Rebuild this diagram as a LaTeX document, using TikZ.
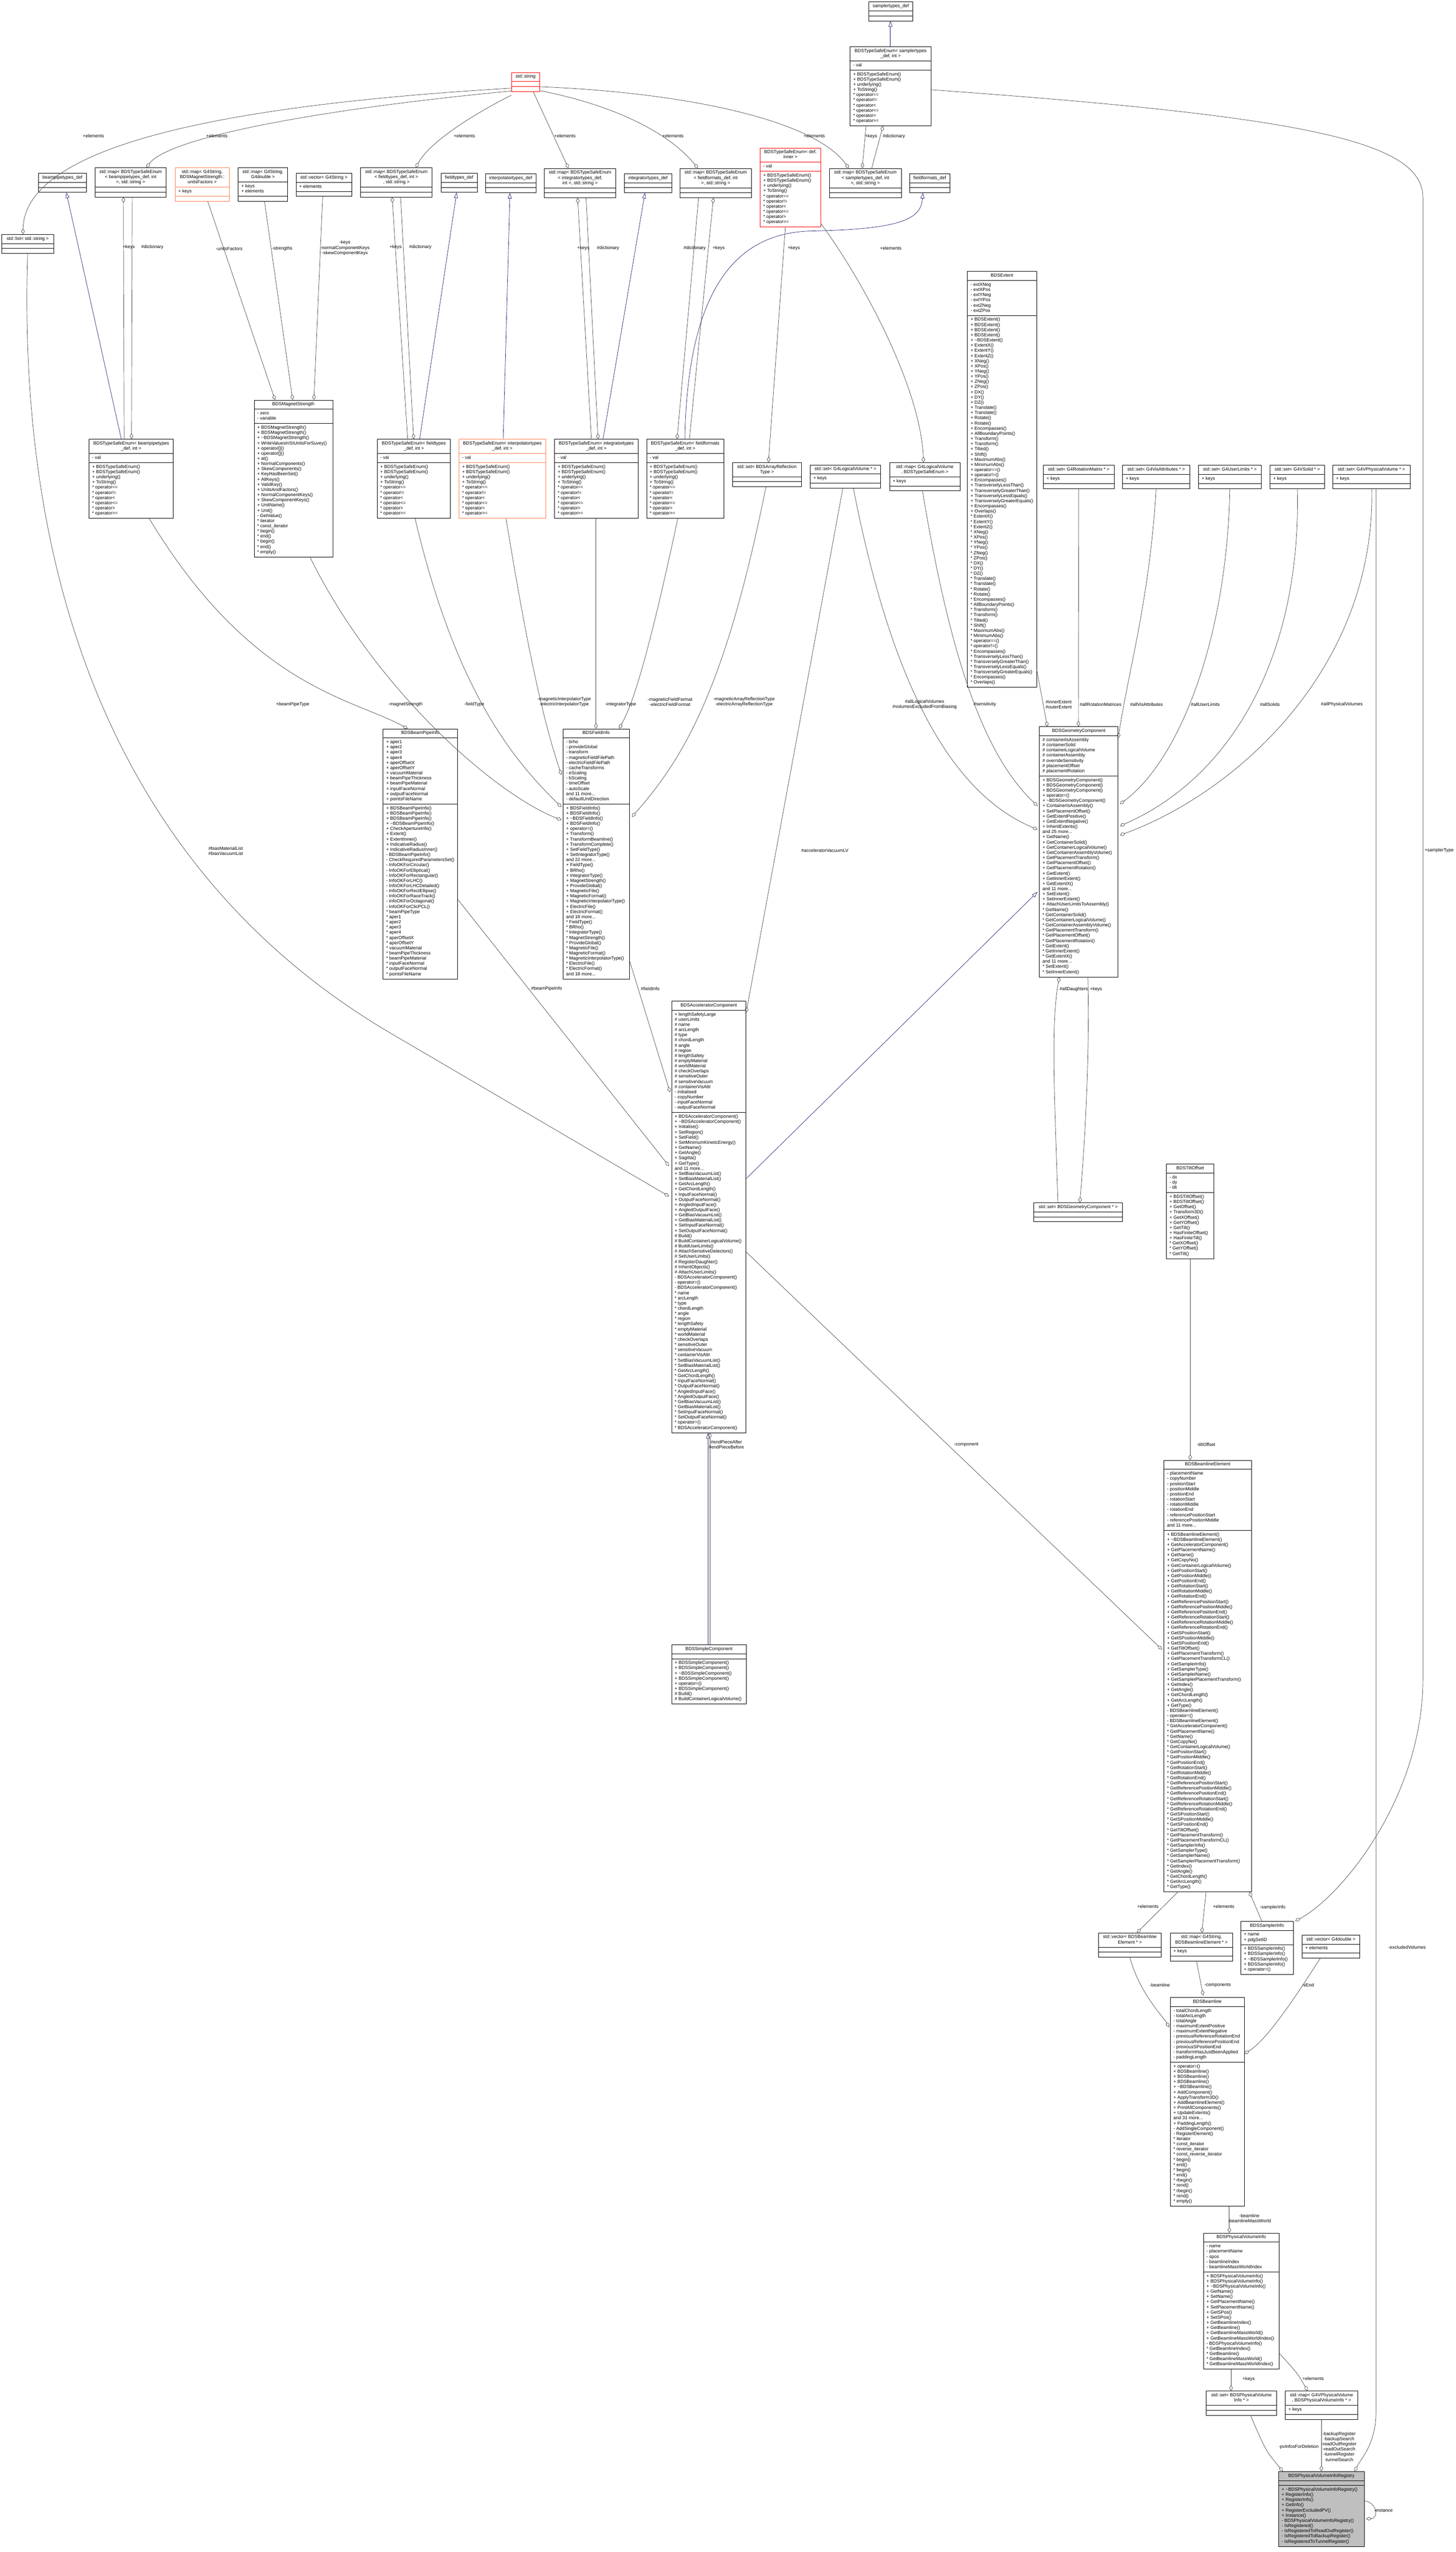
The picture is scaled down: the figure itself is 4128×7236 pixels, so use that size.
\documentclass[tikz,border=0pt]{standalone}
\usepackage{fontspec}
\setmainfont{Liberation Sans}
\usetikzlibrary{shapes.multipart,arrows.meta,calc}
\definecolor{edgegray}{HTML}{404040}
\definecolor{inhblue}{HTML}{191970}
\definecolor{truncred}{HTML}{FF0000}
\definecolor{partorange}{HTML}{FF7F50}
\definecolor{focusgray}{HTML}{BFBFBF}
\newcommand{\mb}[1]{\begin{tabular}{@{}l@{}}#1\end{tabular}}
\newcommand{\tb}[1]{\begin{tabular}{@{}c@{}}#1\end{tabular}}
\newcommand{\noparts}{\nodepart{two}\mb{}\nodepart{three}\mb{}}
\newcommand{\tsemethods}{\mb{+ BDSTypeSafeEnum()\\+ BDSTypeSafeEnum()\\+ underlying()\\+ ToString()\\{}* operator==\\{}* operator!=\\{}* operator<\\{}* operator<=\\{}* operator>\\{}* operator>=}}
\newcommand{\extgroup}[1]{#1 ExtentX()\\#1 ExtentY()\\#1 ExtentZ()\\#1 XNeg()\\#1 XPos()\\#1 YNeg()\\#1 YPos()\\#1 ZNeg()\\#1 ZPos()\\#1 DX()\\#1 DY()\\#1 DZ()\\#1 Translate()\\#1 Translate()\\#1 Rotate()\\#1 Rotate()\\#1 Encompasses()\\#1 AllBoundaryPoints()\\#1 Transform()\\#1 Transform()\\#1 Tilted()\\#1 Shift()\\#1 MaximumAbs()\\#1 MinimumAbs()\\#1 operator==()\\#1 operator!=()\\#1 Encompasses()\\#1 TransverselyLessThan()\\#1 TransverselyGreaterThan()\\#1 TransverselyLessEquals()\\#1 TransverselyGreaterEquals()\\#1 Encompasses()\\#1 Overlaps()}
\newcommand{\elemgroup}[1]{#1 GetAcceleratorComponent()\\#1 GetPlacementName()\\#1 GetName()\\#1 GetCopyNo()\\#1 GetContainerLogicalVolume()\\#1 GetPositionStart()\\#1 GetPositionMiddle()\\#1 GetPositionEnd()\\#1 GetRotationStart()\\#1 GetRotationMiddle()\\#1 GetRotationEnd()\\#1 GetReferencePositionStart()\\#1 GetReferencePositionMiddle()\\#1 GetReferencePositionEnd()\\#1 GetReferenceRotationStart()\\#1 GetReferenceRotationMiddle()\\#1 GetReferenceRotationEnd()\\#1 GetSPositionStart()\\#1 GetSPositionMiddle()\\#1 GetSPositionEnd()\\#1 GetTiltOffset()\\#1 GetPlacementTransform()\\#1 GetPlacementTransformCL()\\#1 GetSamplerInfo()\\#1 GetSamplerType()\\#1 GetSamplerName()\\#1 GetSamplerPlacementTransform()\\#1 GetIndex()\\#1 GetAngle()\\#1 GetChordLength()\\#1 GetArcLength()\\#1 GetType()}
\begin{document}
\begin{tikzpicture}[x=1pt,y=-1pt]
  \tikzstyle{cls}=[draw=black,fill=white,line width=1pt,rectangle split,rectangle split parts=3,
    rectangle split part align={center,left,left},inner xsep=9pt,inner ysep=5pt,anchor=north west,
    font=\fontsize{13}{14.7}\selectfont]
  \tikzstyle{trunccls}=[cls,draw=truncred]
  \tikzstyle{partcls}=[cls,draw=partorange]
  \tikzstyle{agg}=[draw=edgegray,line width=1pt,-{Diamond[open,length=16pt,width=10pt]}]
  \tikzstyle{inh}=[draw=inhblue,line width=1pt,-{Triangle[open,length=16pt,width=11pt]}]
  \tikzstyle{lbl}=[font=\fontsize{13}{14.7}\selectfont,inner sep=0pt,align=center]
  \useasboundingbox[fill=white] (0,0) rectangle (4128,7236);

  % top row
  \node[cls,minimum width=125pt] (samplerdef) at (2463,5) {\tb{samplertypes\_def}\noparts};
  \node[cls,minimum width=230pt] (samplerenum) at (2410,132) {\tb{BDSTypeSafeEnum< samplertypes\\\_def, int >}\nodepart{two}\mb{- val}\nodepart{three}\tsemethods};
  \node[trunccls,minimum width=80pt] (stdstr) at (1450,205) {\tb{std::string}\noparts};

  \node[cls,minimum width=148pt] (stdlist) at (4,664) {\tb{std::list< std::string >}\noparts};
  \node[cls,minimum width=135pt] (beamdef) at (109,491) {\tb{beampipetypes\_def}\noparts};
  \node[cls,minimum width=202pt] (mapbeam) at (269,475) {\tb{std::map< BDSTypeSafeEnum\\< beampipetypes\_def, int\\>, std::string >}\noparts};
  \node[partcls,minimum width=154pt] (mapunits) at (496,475) {\tb{std::map< G4String,\\BDSMagnetStrength::\\unitsFactors >}\nodepart{two}\mb{+ keys}\nodepart{three}\mb{}};
  \node[cls,minimum width=140pt] (mapdouble) at (675,475) {\tb{std::map< G4String,\\G4double >}\nodepart{two}\mb{+ keys\\+ elements}\nodepart{three}\mb{}};
  \node[cls,minimum width=158pt] (vecstr) at (839,491) {\tb{std::vector< G4String >}\nodepart{two}\mb{+ elements}\nodepart{three}\mb{}};
  \node[cls,minimum width=203pt] (mapfield) at (1022,475) {\tb{std::map< BDSTypeSafeEnum\\< fieldtypes\_def, int >\\, std::string >}\noparts};
  \node[cls,minimum width=103pt] (fielddef) at (1250,491) {\tb{fieldtypes\_def}\noparts};
  \node[cls,minimum width=143pt] (interpdef) at (1376,492) {\tb{interpolatortypes\_def}\noparts};
  \node[cls,minimum width=203pt] (mapinteg) at (1543,477) {\tb{std::map< BDSTypeSafeEnum\\< integratortypes\_def,\\int >, std::string >}\noparts};
  \node[cls,minimum width=134pt] (integdef) at (1770,492) {\tb{integratortypes\_def}\noparts};
  \node[cls,minimum width=202pt] (mapformat) at (1928,477) {\tb{std::map< BDSTypeSafeEnum\\< fieldformats\_def, int\\>, std::string >}\noparts};
  \node[trunccls,minimum width=172pt] (tseinner) at (2155,419) {\tb{BDSTypeSafeEnum< def,\\inner >}\nodepart{two}\mb{- val}\nodepart{three}\tsemethods};
  \node[cls,minimum width=203pt] (mapsampler) at (2352,477) {\tb{std::map< BDSTypeSafeEnum\\< samplertypes\_def, int\\>, std::string >}\noparts};
  \node[cls,minimum width=114pt] (formatdef) at (2579,492) {\tb{fieldformats\_def}\noparts};

  % second row
  \node[cls,minimum width=239pt] (beamenum) at (252,1245) {\tb{BDSTypeSafeEnum< beampipetypes\\\_def, int >}\nodepart{two}\mb{- val}\nodepart{three}\tsemethods};
  \node[cls,minimum width=223pt] (magnet) at (720,1134) {\tb{BDSMagnetStrength}\nodepart{two}\mb{- zero\\- variable}\nodepart{three}\mb{+ BDSMagnetStrength()\\+ BDSMagnetStrength()\\+ \textasciitilde BDSMagnetStrength()\\+ WriteValuesInSIUnitsForSuvey()\\+ operator[]()\\+ operator[]()\\+ at()\\+ NormalComponents()\\+ SkewComponents()\\+ KeyHasBeenSet()\\+ AllKeys()\\+ ValidKey()\\+ UnitsAndFactors()\\+ NormalComponentKeys()\\+ SkewComponentKeys()\\+ UnitName()\\+ Unit()\\- GetValue()\\{}* iterator\\{}* const\_iterator\\{}* begin()\\{}* end()\\{}* begin()\\{}* end()\\{}* empty()}};
  \node[cls,minimum width=208pt] (fieldenum) at (1069,1245) {\tb{BDSTypeSafeEnum< fieldtypes\\\_def, int >}\nodepart{two}\mb{- val}\nodepart{three}\tsemethods};
  \node[partcls,minimum width=246pt] (interpenum) at (1301,1245) {\tb{BDSTypeSafeEnum< interpolatortypes\\\_def, int >}\nodepart{two}\mb{- val}\nodepart{three}\tsemethods};
  \node[cls,minimum width=237pt] (integenum) at (1572,1245) {\tb{BDSTypeSafeEnum< integratortypes\\\_def, int >}\nodepart{two}\mb{- val}\nodepart{three}\tsemethods};
  \node[cls,minimum width=219pt] (formatenum) at (1833,1245) {\tb{BDSTypeSafeEnum< fieldformats\\\_def, int >}\nodepart{two}\mb{- val}\nodepart{three}\tsemethods};
  \node[cls,minimum width=195pt] (setrefl) at (2077,1311) {\tb{std::set< BDSArrayReflection\\Type >}\noparts};
  \node[cls,minimum width=200pt] (setlv) at (2297,1318) {\tb{std::set< G4LogicalVolume * >}\nodepart{two}\mb{+ keys}\nodepart{three}\mb{}};
  \node[cls,minimum width=200pt] (maplv) at (2522,1311) {\tb{std::map< G4LogicalVolume\\*, BDSTypeSafeEnum >}\nodepart{two}\mb{+ keys}\nodepart{three}\mb{}};
  \node[cls,minimum width=190pt] (extent) at (2743,769) {\tb{BDSExtent}\nodepart{two}\mb{- extXNeg\\- extXPos\\- extYNeg\\- extYPos\\- extZNeg\\- extZPos}\nodepart{three}\mb{+ BDSExtent()\\+ BDSExtent()\\+ BDSExtent()\\+ BDSExtent()\\+ \textasciitilde BDSExtent()\\\extgroup{+}\\\extgroup{{}*}}};
  \node[cls,minimum width=201pt] (setrot) at (2958,1319) {\tb{std::set< G4RotationMatrix * >}\nodepart{two}\mb{+ keys}\nodepart{three}\mb{}};
  \node[cls,minimum width=190pt] (setvis) at (3183,1319) {\tb{std::set< G4VisAttributes * >}\nodepart{two}\mb{+ keys}\nodepart{three}\mb{}};
  \node[cls,minimum width=178pt] (setul) at (3398,1319) {\tb{std::set< G4UserLimits * >}\nodepart{two}\mb{+ keys}\nodepart{three}\mb{}};
  \node[cls,minimum width=155pt] (setsolid) at (3601,1319) {\tb{std::set< G4VSolid * >}\nodepart{two}\mb{+ keys}\nodepart{three}\mb{}};
  \node[cls,minimum width=219pt] (setpv) at (3779,1319) {\tb{std::set< G4VPhysicalVolume * >}\nodepart{two}\mb{+ keys}\nodepart{three}\mb{}};

  % middle
  \node[cls,minimum width=210pt] (pipeinfo) at (1086,2066) {\tb{BDSBeamPipeInfo}\nodepart{two}\mb{+ aper1\\+ aper2\\+ aper3\\+ aper4\\+ aperOffsetX\\+ aperOffsetY\\+ vacuumMaterial\\+ beamPipeThickness\\+ beamPipeMaterial\\+ inputFaceNormal\\+ outputFaceNormal\\+ pointsFileName}\nodepart{three}\mb{+ BDSBeamPipeInfo()\\+ BDSBeamPipeInfo()\\+ BDSBeamPipeInfo()\\+ \textasciitilde BDSBeamPipeInfo()\\+ CheckApertureInfo()\\+ Extent()\\+ ExtentInner()\\+ IndicativeRadius()\\+ IndicativeRadiusInner()\\- BDSBeamPipeInfo()\\- CheckRequiredParametersSet()\\- InfoOKForCircular()\\- InfoOKForElliptical()\\- InfoOKForRectangular()\\- InfoOKForLHC()\\- InfoOKForLHCDetailed()\\- InfoOKForRectEllipse()\\- InfoOKForRaceTrack()\\- InfoOKForOctagonal()\\- InfoOKForClicPCL()\\{}* beamPipeType\\{}* aper1\\{}* aper2\\{}* aper3\\{}* aper4\\{}* aperOffsetX\\{}* aperOffsetY\\{}* vacuumMaterial\\{}* beamPipeThickness\\{}* beamPipeMaterial\\{}* inputFaceNormal\\{}* outputFaceNormal\\{}* pointsFileName}};
  \node[cls,minimum width=188pt] (fieldinfo) at (1596,2066) {\tb{BDSFieldInfo}\nodepart{two}\mb{- brho\\- provideGlobal\\- transform\\- magneticFieldFilePath\\- electricFieldFilePath\\- cacheTransforms\\- eScaling\\- bScaling\\- timeOffset\\- autoScale\\and 11 more...\\- defaultUnitDirection}\nodepart{three}\mb{+ BDSFieldInfo()\\+ BDSFieldInfo()\\+ \textasciitilde BDSFieldInfo()\\+ BDSFieldInfo()\\+ operator=()\\+ Transform()\\+ TransformBeamline()\\+ TransformComplete()\\+ SetFieldType()\\+ SetIntegratorType()\\and 22 more...\\+ FieldType()\\+ BRho()\\+ IntegratorType()\\+ MagnetStrength()\\+ ProvideGlobal()\\+ MagneticFile()\\+ MagneticFormat()\\+ MagneticInterpolatorType()\\+ ElectricFile()\\+ ElectricFormat()\\and 18 more...\\{}* FieldType()\\{}* BRho()\\{}* IntegratorType()\\{}* MagnetStrength()\\{}* ProvideGlobal()\\{}* MagneticFile()\\{}* MagneticFormat()\\{}* MagneticInterpolatorType()\\{}* ElectricFile()\\{}* ElectricFormat()\\and 18 more...}};
  \node[cls,minimum width=211pt] (acccomp) at (1904,2838) {\tb{BDSAcceleratorComponent}\nodepart{two}\mb{+ lengthSafetyLarge\\\# userLimits\\\# name\\\# arcLength\\\# type\\\# chordLength\\\# angle\\\# region\\\# lengthSafety\\\# emptyMaterial\\\# worldMaterial\\\# checkOverlaps\\\# sensitiveOuter\\\# sensitiveVacuum\\\# containerVisAttr\\- initialised\\- copyNumber\\- inputFaceNormal\\- outputFaceNormal}\nodepart{three}\mb{+ BDSAcceleratorComponent()\\+ \textasciitilde BDSAcceleratorComponent()\\+ Initialise()\\+ SetRegion()\\+ SetField()\\+ SetMinimumKineticEnergy()\\+ GetName()\\+ GetAngle()\\+ Sagitta()\\+ GetType()\\and 11 more...\\+ SetBiasVacuumList()\\+ SetBiasMaterialList()\\+ GetArcLength()\\+ GetChordLength()\\+ InputFaceNormal()\\+ OutputFaceNormal()\\+ AngledInputFace()\\+ AngledOutputFace()\\+ GetBiasVacuumList()\\+ GetBiasMaterialList()\\+ SetInputFaceNormal()\\+ SetOutputFaceNormal()\\\# Build()\\\# BuildContainerLogicalVolume()\\\# BuildUserLimits()\\\# AttachSensitiveDetectors()\\\# SetUserLimits()\\\# RegisterDaughter()\\\# InheritObjects()\\\# AttachUserLimits()\\- BDSAcceleratorComponent()\\- operator=()\\- BDSAcceleratorComponent()\\{}* name\\{}* arcLength\\{}* type\\{}* chordLength\\{}* angle\\{}* region\\{}* lengthSafety\\{}* emptyMaterial\\{}* worldMaterial\\{}* checkOverlaps\\{}* sensitiveOuter\\{}* sensitiveVacuum\\{}* containerVisAttr\\{}* SetBiasVacuumList()\\{}* SetBiasMaterialList()\\{}* GetArcLength()\\{}* GetChordLength()\\{}* InputFaceNormal()\\{}* OutputFaceNormal()\\{}* AngledInputFace()\\{}* AngledOutputFace()\\{}* GetBiasVacuumList()\\{}* GetBiasMaterialList()\\{}* SetInputFaceNormal()\\{}* SetOutputFaceNormal()\\{}* operator=()\\{}* BDSAcceleratorComponent()}};
  \node[cls,minimum width=212pt] (simplecomp) at (1904,4663) {\tb{BDSSimpleComponent}\nodepart{two}\mb{}\nodepart{three}\mb{+ BDSSimpleComponent()\\+ BDSSimpleComponent()\\+ \textasciitilde BDSSimpleComponent()\\+ BDSSimpleComponent()\\+ operator=()\\+ BDSSimpleComponent()\\\# Build()\\\# BuildContainerLogicalVolume()}};
  \node[cls,minimum width=223pt] (geomcomp) at (2947,2060) {\tb{BDSGeometryComponent}\nodepart{two}\mb{\# containerIsAssembly\\\# containerSolid\\\# containerLogicalVolume\\\# containerAssembly\\\# overrideSensitivity\\\# placementOffset\\\# placementRotation}\nodepart{three}\mb{+ BDSGeometryComponent()\\+ BDSGeometryComponent()\\+ BDSGeometryComponent()\\+ operator=()\\+ \textasciitilde BDSGeometryComponent()\\+ ContainerIsAssembly()\\+ SetPlacementOffset()\\+ GetExtentPositive()\\+ GetExtentNegative()\\+ InheritExtents()\\and 25 more...\\+ GetName()\\+ GetContainerSolid()\\+ GetContainerLogicalVolume()\\+ GetContainerAssemblyVolume()\\+ GetPlacementTransform()\\+ GetPlacementOffset()\\+ GetPlacementRotation()\\+ GetExtent()\\+ GetInnerExtent()\\+ GetExtentX()\\and 11 more...\\+ SetExtent()\\+ SetInnerExtent()\\+ AttachUserLimitsToAssembly()\\{}* GetName()\\{}* GetContainerSolid()\\{}* GetContainerLogicalVolume()\\{}* GetContainerAssemblyVolume()\\{}* GetPlacementTransform()\\{}* GetPlacementOffset()\\{}* GetPlacementRotation()\\{}* GetExtent()\\{}* GetInnerExtent()\\{}* GetExtentX()\\and 11 more...\\{}* SetExtent()\\{}* SetInnerExtent()}};
  \node[cls,minimum width=252pt] (setgeom) at (2931,3410) {\tb{std::set< BDSGeometryComponent * >}\noparts};
  \node[cls,minimum width=135pt] (tilt) at (3307,3300) {\tb{BDSTiltOffset}\nodepart{two}\mb{- dx\\- dy\\- tilt}\nodepart{three}\mb{+ BDSTiltOffset()\\+ BDSTiltOffset()\\+ GetOffset()\\+ Transform3D()\\+ GetXOffset()\\+ GetYOffset()\\+ GetTilt()\\+ HasFiniteOffset()\\+ HasFiniteTilt()\\{}* GetXOffset()\\{}* GetYOffset()\\{}* GetTilt()}};

  % bottom right
  \node[cls,minimum width=248pt] (element) at (3300,4140) {\tb{BDSBeamlineElement}\nodepart{two}\mb{- placementName\\- copyNumber\\- positionStart\\- positionMiddle\\- positionEnd\\- rotationStart\\- rotationMiddle\\- rotationEnd\\- referencePositionStart\\- referencePositionMiddle\\and 11 more...}\nodepart{three}\mb{+ BDSBeamlineElement()\\+ \textasciitilde BDSBeamlineElement()\\\elemgroup{+}\\- BDSBeamlineElement()\\- operator=()\\- BDSBeamlineElement()\\\elemgroup{{}*}}};
  \node[cls,minimum width=179pt] (vecelem) at (3114,5480) {\tb{std::vector< BDSBeamline\\Element * >}\noparts};
  \node[cls,minimum width=177pt] (mapelem) at (3318,5480) {\tb{std::map< G4String,\\BDSBeamlineElement * >}\nodepart{two}\mb{+ keys}\nodepart{three}\mb{}};
  \node[cls,minimum width=149pt] (samplerinfo) at (3518,5447) {\tb{BDSSamplerInfo}\nodepart{two}\mb{+ name\\+ pdgSetID}\nodepart{three}\mb{+ BDSSamplerInfo()\\+ BDSSamplerInfo()\\+ \textasciitilde BDSSamplerInfo()\\+ BDSSamplerInfo()\\+ operator=()}};
  \node[cls,minimum width=163pt] (vecdouble) at (3692,5486) {\tb{std::vector< G4double >}\nodepart{two}\mb{+ elements}\nodepart{three}\mb{}};
  \node[cls,minimum width=210pt] (beamline) at (3318,5663) {\tb{BDSBeamline}\nodepart{two}\mb{- totalChordLength\\- totalArcLength\\- totalAngle\\- maximumExtentPositive\\- maximumExtentNegative\\- previousReferenceRotationEnd\\- previousReferencePositionEnd\\- previousSPositionEnd\\- transformHasJustBeenApplied\\- paddingLength}\nodepart{three}\mb{+ operator=()\\+ BDSBeamline()\\+ BDSBeamline()\\+ BDSBeamline()\\+ \textasciitilde BDSBeamline()\\+ AddComponent()\\+ ApplyTransform3D()\\+ AddBeamlineElement()\\+ PrintAllComponents()\\+ UpdateExtents()\\and 31 more...\\+ PaddingLength()\\- AddSingleComponent()\\- RegisterElement()\\{}* iterator\\{}* const\_iterator\\{}* reverse\_iterator\\{}* const\_reverse\_iterator\\{}* begin()\\{}* end()\\{}* begin()\\{}* end()\\{}* rbegin()\\{}* rend()\\{}* rbegin()\\{}* rend()\\{}* empty()}};
  \node[cls,minimum width=215pt] (pvinfo) at (3412,6331) {\tb{BDSPhysicalVolumeInfo}\nodepart{two}\mb{- name\\- placementName\\- spos\\- beamlineIndex\\- beamlineMassWorldIndex}\nodepart{three}\mb{+ BDSPhysicalVolumeInfo()\\+ BDSPhysicalVolumeInfo()\\+ \textasciitilde BDSPhysicalVolumeInfo()\\+ GetName()\\+ SetName()\\+ GetPlacementName()\\+ SetPlacementName()\\+ GetSPos()\\+ SetSPos()\\+ GetBeamlineIndex()\\+ GetBeamline()\\+ GetBeamlineMassWorld()\\+ GetBeamlineMassWorldIndex()\\- BDSPhysicalVolumeInfo()\\{}* GetBeamlineIndex()\\{}* GetBeamline()\\{}* GetBeamlineMassWorld()\\{}* GetBeamlineMassWorldIndex()}};
  \node[cls,minimum width=200pt] (setpvinfo) at (3420,6779) {\tb{std::set< BDSPhysicalVolume\\Info * >}\noparts};
  \node[cls,minimum width=206pt] (mappvinfo) at (3644,6779) {\tb{std::map< G4VPhysicalVolume\\*, BDSPhysicalVolumeInfo * >}\nodepart{two}\mb{+ keys}\nodepart{three}\mb{}};
  \node[cls,fill=focusgray,minimum width=243pt] (registry) at (3625,7007) {\tb{BDSPhysicalVolumeInfoRegistry}\nodepart{two}\mb{}\nodepart{three}\mb{+ \textasciitilde BDSPhysicalVolumeInfoRegistry()\\+ RegisterInfo()\\+ RegisterInfo()\\+ GetInfo()\\+ RegisterExcludedPV()\\+ Instance()\\- BDSPhysicalVolumeInfoRegistry()\\- IsRegistered()\\- IsRegisteredToReadOutRegister()\\- IsRegisteredToBackupRegister()\\- IsRegisteredToTunnelRegister()}};

  % edges from std::string
  \draw[agg] ($(stdstr.north west)+(0,45)$) .. controls (600,300) and (70,420) .. ($(stdlist.north west)+(61,0)$);
  \draw[agg] ($(stdstr.north west)+(0,53)$) .. controls (900,310) and (480,390) .. ($(mapbeam.north west)+(146,0)$);
  \draw[agg] ($(stdstr.north west)+(0,65)$) .. controls (1350,320) and (1220,400) .. ($(mapfield.north west)+(157,0)$);
  \draw[agg] ($(stdstr.south west)+(62,0)$) -- ($(mapinteg.north west)+(69,0)$);
  \draw[agg] ($(stdstr.north east)+(0,52)$) .. controls (1750,300) and (1900,380) .. ($(mapformat.north west)+(51,0)$);
  \draw[agg] ($(stdstr.north east)+(0,41)$) .. controls (1900,260) and (2300,330) .. ($(mapsampler.north west)+(55,0)$);
  \node[lbl] (l1) at (265,385) {+elements};
  \node[lbl] (l2) at (615,385) {+elements};
  \node[lbl] (l3) at (1317,385) {+elements};
  \node[lbl] (l4) at (1602,386) {+elements};
  \node[lbl] (l5) at (1908,386) {+elements};
  \node[lbl] (l6) at (2309,386) {+elements};

  % type safe enums
  \draw[inh] ($(samplerenum.north west)+(115,0)$) -- ($(samplerdef.south west)+(62,0)$);
  \draw[agg] ($(samplerenum.south west)+(46,0)$) .. controls (2452,400) .. ($(mapsampler.north west)+(93,0)$);
  \draw[agg] ($(mapsampler.north west)+(120,0)$) -- ($(samplerenum.south west)+(94,0)$);
  \node[lbl] (l7) at (2470,386) {+keys};
  \node[lbl] (l8) at (2535,386) {\#dictionary};
  \draw[agg] ($(integenum.north west)+(105,0)$) -- ($(mapinteg.south west)+(95,0)$);
  \draw[agg] ($(mapinteg.south west)+(119,0)$) -- ($(integenum.north west)+(124,0)$);
  \draw[inh] ($(integenum.north west)+(138,0)$) -- ($(integdef.south west)+(59,0)$);
  \node[lbl] (l9) at (1654,704) {+keys};
  \node[lbl] (l10) at (1724,704) {\#dictionary};
  \draw[agg] ($(mapformat.south west)+(53,0)$) -- ($(formatenum.north west)+(87,0)$);
  \draw[agg] ($(formatenum.north west)+(122,0)$) -- ($(mapformat.south west)+(95,0)$);
  \draw[inh] ($(formatenum.north west)+(109,0)$) .. controls (1950,800) and (2100,660) .. (2300,655) .. controls (2560,650) and (2612,620) .. ($(formatdef.south west)+(38,0)$);
  \node[lbl] (l11) at (1970,704) {\#dictionary};
  \node[lbl] (l12) at (2038,704) {+keys};
  \draw[agg] ($(tseinner.south west)+(72,0)$) -- ($(setrefl.north west)+(102,0)$);
  \draw[agg] ($(tseinner.south east)+(0,-10)$) .. controls (2450,800) and (2610,1100) .. ($(maplv.north west)+(97,0)$);
  \node[lbl] (l13) at (2251,704) {+keys};
  \node[lbl] (l14) at (2526,704) {+elements};
  \draw[inh] ($(beamenum.north west)+(92,0)$) -- ($(beamdef.south west)+(79,0)$);
  \draw[agg] ($(beamenum.north west)+(100,0)$) -- ($(mapbeam.south west)+(81,0)$);
  \draw[agg] ($(mapbeam.south west)+(106,0)$) -- ($(beamenum.north west)+(121,0)$);
  \node[lbl] (l40) at (365,700) {+keys};
  \node[lbl] (l41) at (432,700) {\#dictionary};
  \draw[agg] ($(fieldenum.north west)+(87,0)$) -- ($(mapfield.south west)+(90,0)$);
  \draw[agg] ($(mapfield.south west)+(114,0)$) -- ($(fieldenum.north west)+(104,0)$);
  \draw[inh] ($(fieldenum.north west)+(121,0)$) -- ($(fielddef.south west)+(45,0)$);
  \node[lbl] (l42) at (1122,700) {+keys};
  \node[lbl] (l43) at (1192,700) {\#dictionary};
  \draw[inh] ($(interpenum.north west)+(126,0)$) -- ($(interpdef.south west)+(70,0)$);
  \draw[agg] ($(mapunits.south west)+(93,0)$) -- ($(magnet.north west)+(60,0)$);
  \draw[agg] ($(mapdouble.south west)+(75,0)$) -- ($(magnet.north west)+(110,0)$);
  \draw[agg] ($(vecstr.south west)+(76,0)$) -- ($(magnet.north west)+(170,0)$);
  \node[lbl] (l44) at (650,705) {-unitsFactors};
  \node[lbl] (l45) at (800,705) {-strengths};
  \node[lbl] (l15) at (978,703) {-keys\\-normalComponentKeys\\-skewComponentKeys};

  % into field info and beam pipe info
  \draw[agg] ($(beamenum.south west)+(171,0)$) .. controls (713,1950) and (1000,1980) .. ($(pipeinfo.north west)+(70,0)$);
  \draw[agg] ($(fieldenum.south west)+(108,0)$) .. controls (1290,1950) and (1450,2150) .. ($(fieldinfo.north west)+(-4,222)$);
  \draw[agg] ($(magnet.south west)+(159,0)$) .. controls (1061,1950) and (1400,2250) .. ($(fieldinfo.north west)+(-4,259)$);
  \draw[agg] ($(interpenum.south west)+(134,0)$) .. controls (1513,1950) and (1560,2100) .. ($(fieldinfo.north west)+(-4,131)$);
  \draw[agg] ($(integenum.south west)+(118,0)$) -- ($(fieldinfo.north west)+(94,0)$);
  \draw[agg] ($(formatenum.south west)+(89,0)$) .. controls (1820,1950) and (1780,2020) .. ($(fieldinfo.north west)+(160,0)$);
  \draw[agg] ($(setrefl.south west)+(95,0)$) .. controls (2058,1950) and (1939,2150) .. ($(fieldinfo.north east)+(7,250)$);
  \node[lbl] (l46) at (830,1997) {+beamPipeType};
  \node[lbl] (l47) at (1150,1997) {-magnetStrength};
  \node[lbl] (l48) at (1345,1997) {-fieldType};
  \node[lbl] (l49) at (1600,1990) {-magneticInterpolatorType\\-electricInterpolatorType};
  \node[lbl] (l50) at (1760,1997) {-integratorType};
  \node[lbl] (l51) at (1900,1990) {-magneticFieldFormat\\-electricFieldFormat};
  \node[lbl] (l52) at (2110,1990) {-magneticArrayReflectionType\\-electricArrayReflectionType};

  % accelerator component
  \draw[agg] (stdlist.south) .. controls (50,1600) and (300,2450) .. (1100,2925) -- ($(acccomp.north west)+(-7,554)$);
  \draw[agg] ($(pipeinfo.north east)+(0,484)$) -- ($(acccomp.north west)+(-7,468)$);
  \draw[agg] ($(fieldinfo.south east)+(0,-53)$) -- ($(acccomp.north west)+(-4,259)$);
  \draw[agg] ($(setlv.south west)+(93,0)$) .. controls (2286,1950) and (2249,2150) .. ($(acccomp.north east)+(0,33)$);
  \draw[inh] ($(acccomp.north east)+(0,504)$) -- ($(geomcomp.north west)+(-5,469)$);
  \draw[inh] ($(simplecomp.north west)+(104,0)$) -- ($(acccomp.south west)+(104,0)$);
  \draw[agg] ($(simplecomp.north west)+(109,0)$) -- ($(acccomp.south west)+(109,0)$);
  \node[lbl] (l53) at (640,2413) {\#biasMaterialList\\\#biasVacuumList};
  \node[lbl] (l16) at (1550,2804) {\#beamPipeInfo};
  \node[lbl] (l17) at (1844,2804) {\#fieldInfo};
  \node[lbl] (l18) at (2339,2412) {\#acceleratorVacuumLV};
  \node[lbl] (l19) at (2060,4096) {\#endPieceAfter\\\#endPieceBefore};

  % geometry component
  \draw[agg] ($(extent.south east)+(0,-52)$) -- ($(geomcomp.north west)+(23,0)$);
  \draw[agg] (setrot.south) -- ($(geomcomp.north west)+(111,0)$);
  \draw[agg] (setvis.south) .. controls (3260,1700) and (3200,1900) .. ($(geomcomp.north east)+(0,33)$);
  \draw[agg] (setul.south) .. controls (3480,1800) and (3350,2150) .. ($(geomcomp.north east)+(5,220)$);
  \draw[agg] (setsolid.south) .. controls (3690,1850) and (3500,2200) .. ($(geomcomp.north east)+(5,282)$);
  \draw[agg] ($(setpv.south west)+(111,0)$) .. controls (3900,1900) and (3500,2250) .. ($(geomcomp.north east)+(5,308)$);
  \draw[agg] ($(maplv.south west)+(94,0)$) .. controls (2700,1900) and (2800,2150) .. ($(geomcomp.north west)+(-5,225)$);
  \draw[agg] ($(setlv.south west)+(123,0)$) .. controls (2530,1950) and (2700,2250) .. ($(geomcomp.north west)+(-5,292)$);
  \draw[agg] ($(setgeom.north west)+(69,0)$) .. controls (2990,3100) and (2980,2900) .. ($(geomcomp.south west)+(57,0)$);
  \draw[agg] ($(geomcomp.south west)+(138,0)$) .. controls (3090,2950) and (3080,3200) .. ($(setgeom.north west)+(131,0)$);
  \node[lbl] (l54) at (2622,1997) {\#allLogicalVolumes\\\#volumesExcludedFromBiasing};
  \node[lbl] (l20) at (3002,1997) {\#innerExtent\\\#outerExtent};
  \node[lbl] (l21) at (3121,1997) {\#allRotationMatrices};
  \node[lbl] (l22) at (3251,1997) {\#allVisAttributes};
  \node[lbl] (l23) at (3418,1997) {\#allUserLimits};
  \node[lbl] (l24) at (3601,1997) {\#allSolids};
  \node[lbl] (l25) at (3805,1997) {\#allPhysicalVolumes};
  \node[lbl] (l26) at (2793,1997) {\#sensitivity};
  \node[lbl] (l27) at (3045,2805) {\#allDaughters};
  \node[lbl] (l28) at (3108,2805) {+keys};

  % beamline element and beamline
  \draw[agg] ($(acccomp.north east)+(0,712)$) -- ($(element.north west)+(-5,537)$);
  \draw[agg] (tilt.south) -- ($(element.north west)+(75,0)$);
  \draw[agg] ($(element.south west)+(40,0)$) -- ($(vecelem.north west)+(110,0)$);
  \draw[agg] ($(element.south west)+(120,0)$) -- ($(mapelem.north west)+(90,0)$);
  \draw[agg] ($(samplerinfo.north west)+(60,0)$) -- ($(element.south east)+(-6,0)$);
  \draw[agg] ($(samplerenum.east)+(0,10)$) .. controls (3700,330) and (4035,400) .. (4035,560) -- (4035,4760) .. controls (4035,5100) and (3800,5380) .. ($(samplerinfo.north east)+(5,0)$);
  \draw[agg] (vecelem.south) .. controls (3230,5650) and (3300,5720) .. ($(beamline.north west)+(-3,85)$);
  \draw[agg] ($(mapelem.south west)+(75,0)$) -- ($(beamline.north west)+(94,-5)$);
  \draw[agg] ($(vecdouble.south west)+(52,0)$) .. controls (3700,5620) and (3600,5780) .. ($(beamline.north east)+(0,160)$);
  \node[lbl] (l55) at (2740,4096) {-component};
  \node[lbl] (l56) at (3420,4096) {-tiltOffset};
  \node[lbl] (l57) at (3255,5405) {+elements};
  \node[lbl] (l58) at (3470,5405) {+elements};
  \node[lbl] (l29) at (4081,2411) {+samplerType};
  \node[lbl] (l30) at (3289,5629) {-beamline};
  \node[lbl] (l31) at (3453,5629) {-components};
  \node[lbl] (l32) at (3709,5628) {-sEnd};
  \node[lbl] (l33) at (3609,5408) {-samplerInfo};

  % physical volume info registry
  \draw[agg] ($(beamline.south west)+(168,0)$) -- ($(pvinfo.north west)+(74,0)$);
  \draw[agg] ($(pvinfo.south west)+(79,0)$) -- ($(setpvinfo.north west)+(71,0)$);
  \draw[agg] ($(pvinfo.south east)+(0,-45)$) .. controls (3680,6730) .. ($(mappvinfo.north west)+(64,0)$);
  \draw[agg] ($(setpvinfo.south west)+(126,0)$) .. controls (3590,6950) .. ($(registry.north west)+(13,0)$);
  \draw[agg] ($(mappvinfo.south west)+(103,0)$) -- ($(registry.north west)+(122,0)$);
  \draw[agg] ($(setpv.south west)+(123,0)$) -- (3902,6837) .. controls (3902,6930) and (3860,6970) .. ($(registry.north west)+(216,0)$);
  \draw[agg] ($(registry.north east)+(0,84)$) .. controls (3905,7095) and (3910,7140) .. ($(registry.north east)+(5,135)$);
  \node[lbl] (l59) at (3543,6290) {-beamline\\-beamlineMassWorld};
  \node[lbl] (l34) at (3990,5522) {-excludedVolumes};
  \node[lbl] (l35) at (3541,6745) {+keys};
  \node[lbl] (l36) at (3724,6745) {+elements};
  \node[lbl] (l37) at (3683,6938) {-pvInfosForDeletion};
  \node[lbl] (l38) at (3797,6937) {-backupRegister\\-backupSearch\\-readOutRegister\\-readOutSearch\\-tunnelRegister\\-tunnelSearch};
  \node[lbl] (l39) at (3923,7117) {-instance};
\end{tikzpicture}
\end{document}
